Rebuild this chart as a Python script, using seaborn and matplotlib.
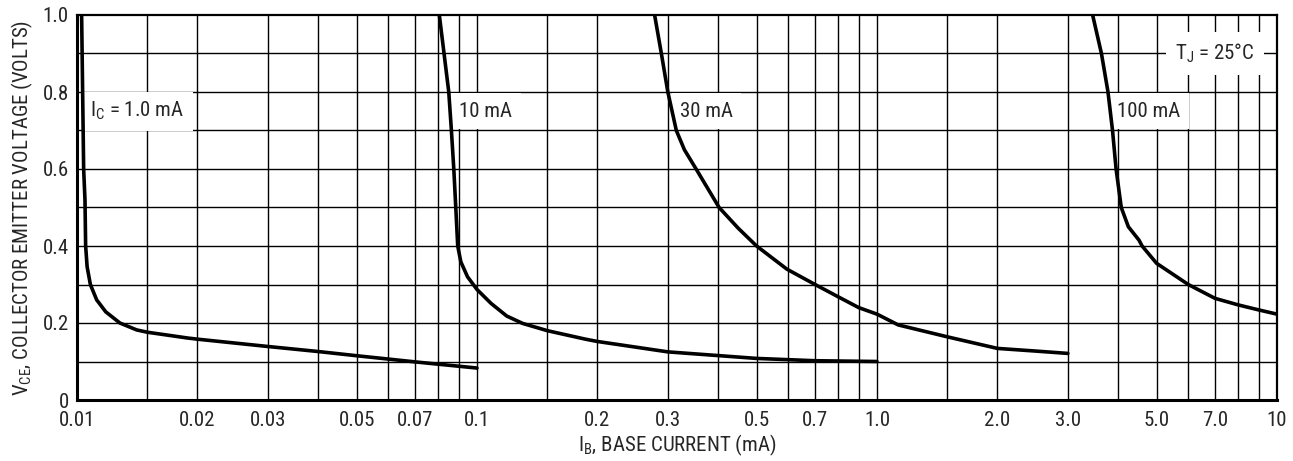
import numpy as np
import pandas as pd
import matplotlib
matplotlib.use("Agg")
import matplotlib.pyplot as plt
from matplotlib.ticker import FixedLocator, NullLocator
import seaborn as sns

# curve data (IB in mA, VCE in volts)
ib_1ma = [0.01027, 0.01033, 0.01039, 0.01047, 0.01051, 0.0106, 0.0108, 0.0112, 0.0118, 0.0128, 0.0141,
          0.015, 0.0189, 0.02, 0.03, 0.04, 0.05, 0.07, 0.1]
vce_1ma = [1.0, 0.8, 0.6, 0.52, 0.4, 0.346, 0.3, 0.26, 0.229, 0.2, 0.182,
           0.176, 0.161, 0.158, 0.139, 0.126, 0.115, 0.099, 0.083]

ib_10ma = [0.0805, 0.085, 0.0863, 0.0875, 0.0885, 0.0895, 0.0911, 0.0947, 0.1, 0.1084, 0.1187, 0.130,
           0.15, 0.1867, 0.2, 0.3, 0.5, 0.7, 1.0]
vce_10ma = [1.0, 0.8, 0.7, 0.6, 0.5, 0.4, 0.359, 0.32, 0.287, 0.251, 0.218, 0.199,
            0.180, 0.158, 0.152, 0.125, 0.108, 0.102, 0.1]

ib_30ma = [0.278, 0.289, 0.3, 0.315, 0.330, 0.353, 0.403, 0.45, 0.5, 0.595, 0.7, 0.8, 0.9, 1.0,
           1.13, 1.5, 2.0, 2.5, 3.0]
vce_30ma = [1.0, 0.9, 0.8, 0.7, 0.65, 0.6, 0.5, 0.446, 0.4, 0.34, 0.3, 0.268, 0.24, 0.223,
            0.195, 0.164, 0.134, 0.127, 0.121]

ib_100ma = [3.46, 3.64, 3.78, 3.88, 3.96, 4.08, 4.25, 4.52, 4.6, 5.0, 6.0, 7.0, 8.0, 9.0, 10.0]
vce_100ma = [1.0, 0.9, 0.8, 0.7, 0.6, 0.5, 0.45, 0.415, 0.4, 0.355, 0.3, 0.264, 0.247, 0.234, 0.223]

curve_labels = [r"$\mathregular{I_C}$ = 1.0 mA", "10 mA", "30 mA", "100 mA"]

x_ticks = [0.01, 0.02, 0.03, 0.05, 0.07, 0.1, 0.2, 0.3, 0.5, 0.7, 1.0, 2.0, 3.0, 5.0, 7.0, 10]
x_ticklabels = ["0.01", "0.02", "0.03", "0.05", "0.07", "0.1", "0.2", "0.3", "0.5", "0.7",
                "1.0", "2.0", "3.0", "5.0", "7.0", "10"]
x_grid = [m * d for d in (0.01, 0.1, 1.0) for m in (1, 1.5, 2, 3, 4, 5, 6, 7, 8, 9)] + [10]
y_ticks = [0, 0.2, 0.4, 0.6, 0.8, 1.0]
y_ticklabels = ["0", "0.2", "0.4", "0.6", "0.8", "1.0"]

sns.set_style("white")
plt.rcParams['font.family'] = ['Roboto Condensed', 'Liberation Sans', 'DejaVu Sans']
plt.rcParams['mathtext.fontset'] = 'custom'
plt.rcParams['mathtext.rm'] = 'Roboto Condensed'
FS = 15

fig = plt.figure(figsize=(12.93, 4.61), dpi=100)
ax = fig.add_axes([77 / 1293, 61 / 461, 1200 / 1293, 385 / 461])

frames = []
for xs, ys, lab in [(ib_1ma, vce_1ma, "1"), (ib_10ma, vce_10ma, "10"),
                    (ib_30ma, vce_30ma, "30"), (ib_100ma, vce_100ma, "100")]:
    frames.append(pd.DataFrame({"ib": xs, "vce": ys, "ic": lab}))
df = pd.concat(frames, ignore_index=True)

sns.lineplot(data=df, x="ib", y="vce", units="ic", estimator=None, sort=False,
             color="black", linewidth=2.6, ax=ax, zorder=4, legend=False)

ax.set_xscale("log")
ax.set_xlim(0.01, 10)
ax.set_ylim(0, 1.0)

# grid drawn as plain lines (datasheet style grid)
for gx in x_grid:
    ax.axvline(gx, color="black", linewidth=1.0, zorder=1)
for gy in np.arange(0.1, 1.0, 0.1):
    ax.axhline(gy, color="black", linewidth=1.0, zorder=1)

ax.xaxis.set_major_locator(FixedLocator(x_ticks))
ax.xaxis.set_minor_locator(NullLocator())
ax.set_xticklabels(x_ticklabels, fontsize=FS)
ax.set_yticks(y_ticks)
ax.set_yticklabels(y_ticklabels, fontsize=FS)
ax.tick_params(axis="x", length=0, pad=8)
ax.tick_params(axis="y", length=0, pad=6)

for side in ["left", "bottom"]:
    ax.spines[side].set_linewidth(2.2)
for side in ["top", "right"]:
    ax.spines[side].set_linewidth(1.6)
for s in ax.spines.values():
    s.set_color("black")
    s.set_zorder(5)

box = dict(facecolor="white", edgecolor="none", boxstyle="square,pad=0.4")
ax.text(0.0108, 0.75, curve_labels[0], fontsize=FS, ha="left", va="center", bbox=box, zorder=3)
ax.text(0.1053, 0.75, curve_labels[1], fontsize=FS, ha="center", va="center", bbox=box, zorder=3)
ax.text(0.375, 0.75, curve_labels[2], fontsize=FS, ha="center", va="center", bbox=box, zorder=3)
ax.text(4.78, 0.75, curve_labels[3], fontsize=FS, ha="center", va="center", bbox=box, zorder=3)
ax.text(7.0, 0.90, r"$\mathregular{T_J}$ = 25°C", fontsize=FS, ha="center", va="center",
        bbox=dict(facecolor="white", edgecolor="none", boxstyle="square,pad=0.45"), zorder=3)

ax.set_xlabel(r"$\mathregular{I_B}$, BASE CURRENT (mA)", fontsize=FS, labelpad=2)
ax.set_ylabel(r"$\mathregular{V_{CE}}$, COLLECTOR EMITTER VOLTAGE (VOLTS)", fontsize=FS, labelpad=5)

plt.savefig("out.png", dpi=100)
